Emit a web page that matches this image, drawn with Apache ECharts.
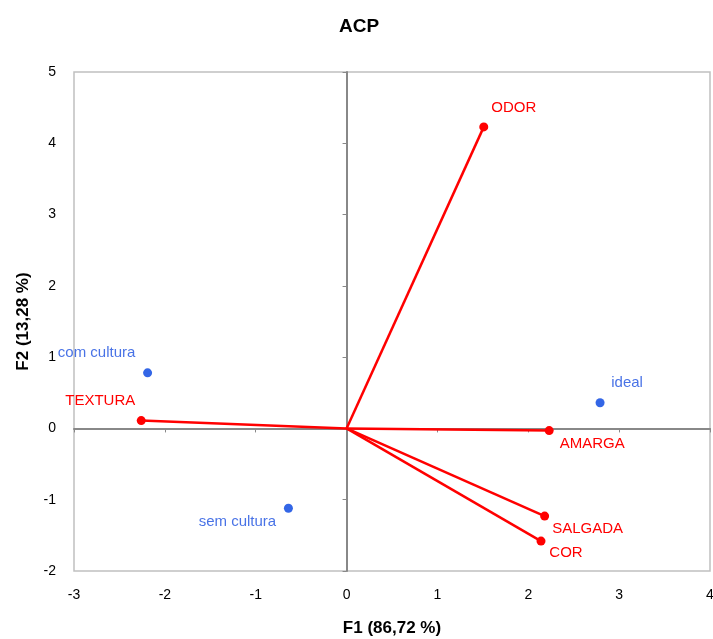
<!DOCTYPE html>
<html>
<head>
<meta charset="UTF-8">
<title>ACP</title>
<script src="https://cdn.jsdelivr.net/npm/echarts@6/dist/echarts.min.js"></script>
<style>
  html, body { margin: 0; padding: 0; background: #fff; }
  #main { width: 713px; height: 639px; }
</style>
</head>
<body>
<div id="main"></div>
<script>
// variables (red vectors)
var varNames = ['ODOR', 'AMARGA', 'SALGADA', 'COR', 'TEXTURA'];
var varF1 = [1.51, 2.23, 2.18, 2.14, -2.26];
var varF2 = [4.23, -0.03, -1.23, -1.58, 0.11];
var varLabelOffset = [[30, -19], [43, 13], [43, 13], [25, 12], [-41, -20]];

// observations (blue points)
var obsNames = ['com cultura', 'ideal', 'sem cultura'];
var obsF1 = [-2.19, 2.79, -0.64];
var obsF2 = [0.78, 0.36, -1.12];
var obsLabelOffset = [[-51, -20], [27, -20], [-51, 14]];

var xTicks = [-3, 4];
var yTicks = [-2, 5];

var font = 'Liberation Sans, Arial, sans-serif';
var series = [];

varNames.forEach(function (n, i) {
    series.push({
        type: 'line',
        xAxisIndex: 0,
        yAxisIndex: 0,
        data: [[0, 0], [varF1[i], varF2[i]]],
        symbol: 'circle',
        symbolSize: function (v, p) { return p.dataIndex === 0 ? 0 : 9; },
        showAllSymbol: true,
        lineStyle: { color: '#ff0000', width: 2.5 },
        itemStyle: { color: '#ff0000' },
        label: {
            show: true,
            formatter: function (p) { return p.dataIndex === 0 ? '' : n; },
            position: 'inside',
            offset: varLabelOffset[i],
            color: '#ff0000',
            fontSize: 15,
            fontFamily: font
        },
        silent: true,
        animation: false,
        z: 3
    });
});

series.push({
    type: 'scatter',
    xAxisIndex: 0,
    yAxisIndex: 0,
    data: obsNames.map(function (n, i) {
        return {
            name: n,
            value: [obsF1[i], obsF2[i]],
            label: { offset: obsLabelOffset[i] }
        };
    }),
    symbolSize: 9,
    itemStyle: { color: '#0040e0' },
    label: {
        show: true,
        position: 'inside',
        formatter: '{b}',
        color: '#1a4fe0',
        fontSize: 15,
        fontFamily: font
    },
    silent: true,
    animation: false,
    z: 4
});

var chart = echarts.init(document.getElementById('main'));
chart.setOption({
    animation: false,
    title: {
        text: 'ACP',
        left: 334,
        top: 12,
        textStyle: { fontSize: 19, fontWeight: 'bold', color: '#000', fontFamily: font }
    },
    grid: {
        left: 74, right: 3, top: 72, bottom: 68,
        outerBoundsMode: 'none',
        show: true,
        borderColor: '#c0c0c0',
        borderWidth: 1.5
    },
    xAxis: [{
        type: 'value',
        min: xTicks[0], max: xTicks[1], interval: 1,
        name: 'F1 (86,72 %)',
        nameLocation: 'middle',
        nameGap: 49,
        nameTextStyle: { fontSize: 17, fontWeight: 'bold', color: '#000', fontFamily: font },
        axisLine: { show: false, onZero: false },
        axisTick: { show: false },
        splitLine: { show: false },
        axisLabel: { color: '#000', fontSize: 14, margin: 17, fontFamily: font }
    }, {
        type: 'value',
        min: xTicks[0], max: xTicks[1], interval: 1,
        position: 'bottom',
        axisLine: { show: true, onZero: true, onZeroAxisIndex: 0, lineStyle: { color: '#888', width: 2 } },
        axisTick: { show: true, length: 4, lineStyle: { color: '#888' } },
        axisLabel: { show: false },
        splitLine: { show: false }
    }],
    yAxis: [{
        type: 'value',
        min: yTicks[0], max: yTicks[1], interval: 1,
        name: 'F2 (13,28 %)',
        nameLocation: 'middle',
        nameGap: 42,
        nameTextStyle: { fontSize: 17, fontWeight: 'bold', color: '#000', fontFamily: font },
        axisLine: { show: false, onZero: false },
        axisTick: { show: false },
        splitLine: { show: false },
        axisLabel: { color: '#000', fontSize: 14, margin: 18, fontFamily: font }
    }, {
        type: 'value',
        min: yTicks[0], max: yTicks[1], interval: 1,
        position: 'left',
        axisLine: { show: true, onZero: true, onZeroAxisIndex: 0, lineStyle: { color: '#888', width: 2 } },
        axisTick: { show: true, length: 4, lineStyle: { color: '#888' } },
        axisLabel: { show: false },
        splitLine: { show: false }
    }],
    series: series
});
</script>
</body>
</html>
